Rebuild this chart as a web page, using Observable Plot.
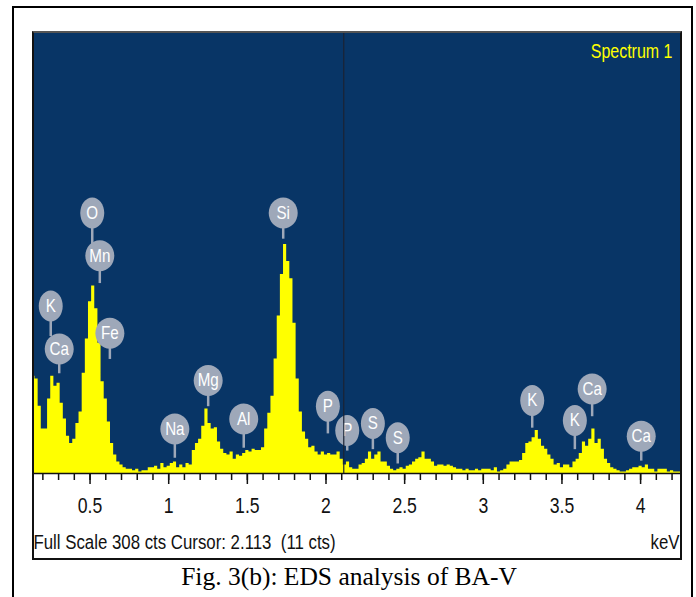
<!DOCTYPE html>
<html>
<head>
<meta charset="utf-8">
<script src="https://cdn.jsdelivr.net/npm/d3@7"></script>
<script src="https://cdn.jsdelivr.net/npm/@observablehq/plot@0.6"></script>
<style>
  html, body { margin: 0; padding: 0; background: #fff; }
  #page { position: relative; width: 696px; height: 597px; overflow: hidden; }
  #outer { position: absolute; left: 12px; top: 6px; width: 681px; height: 620px; border: 2px solid #000; box-sizing: border-box; }
  #chart { position: absolute; left: 0; top: 0; }
  #panel { position: absolute; left: 32px; top: 31px; width: 650px; height: 529px; border: 2px solid #111; border-top-color: #555; box-sizing: border-box; pointer-events: none; }
  #caption { position: absolute; left: 0; width: 698px; top: 562px; text-align: center;
    font-family: 'Palatino Linotype', 'Book Antiqua', 'Liberation Serif', 'DejaVu Serif', serif; font-size: 25.5px; color: #000; }
</style>
</head>
<body>
<div id="page">
  <div id="outer"></div>
  <div id="chart"></div>
  <div id="panel"></div>
  <div id="caption">Fig. 3(b): EDS analysis of BA-V</div>
</div>
<script>
// ---- Data ----
const energyStart = 0.14;   // keV of first channel
const channelWidth = 0.02;  // keV per channel
// counts per channel, rows of 10 channels (0.2 keV per row)
const counts = [
  68,66,47,31,31,52,68,61,63,49,      // 0.14-0.32
  38,26,21,24,35,43,70,94,120,131,    // 0.34-0.52
  115,91,64,52,36,21,13,8,6,4,        // 0.54-0.72
  3,3,2,3,1,2,2,4,4,5,                // 0.74-0.92
  3,7,4,5,7,8,4,6,4,7,                // 0.94-1.12
  6,16,21,24,33,45,35,31,32,22,       // 1.14-1.32
  17,14,13,15,10,13,12,14,16,15,      // 1.34-1.52
  17,16,16,18,31,42,54,80,110,139,    // 1.54-1.72
  160,148,136,105,66,43,29,24,18,19,  // 1.74-1.92
  15,13,15,13,14,13,13,15,10,6,       // 1.94-2.12
  8,4,3,3,6,7,10,15,10,13,            // 2.14-2.32
  15,8,8,5,3,2,3,4,3,5,               // 2.34-2.52
  6,8,10,11,15,10,10,8,5,6,           // 2.54-2.72
  6,5,6,5,4,3,3,2,3,2,                // 2.74-2.92
  2,3,2,3,3,3,2,4,1,2,                // 2.94-3.12
  3,6,8,8,8,9,14,21,22,25,            // 3.14-3.32
  30,24,19,17,13,10,6,7,4,6,          // 3.34-3.52
  6,4,8,10,14,22,19,24,31,21,         // 3.54-3.72
  24,17,10,7,4,3,2,1,1,2,             // 3.74-3.92
  3,4,4,5,4,6,3,3,1,3,                // 3.94-4.12
  3,3,1,2,1,1,1                       // 4.14-4.26
];
const peakElements = ["K","Ca","O","Mn","Fe","Na","Mg","Al","Si","P","P","S","S","K","K","Ca","Ca"];
const peakKeV      = [0.250,0.304,0.514,0.562,0.626,1.039,1.251,1.477,1.728,2.012,2.135,2.298,2.456,3.311,3.582,3.692,4.004];
const badgeCts     = [117,87,182,152,98,31,65,38,182,47,30,35,25,51,37,59,26];
const stemCts      = [96,70,159,133,80,11,47,18,164,28,16,17,7,32,17,40,9];
const majorTicks = [0.5, 1, 1.5, 2, 2.5, 3, 3.5, 4];
const majorTickLabels = ["0.5", "1", "1.5", "2", "2.5", "3", "3.5", "4"];
const fullScale = 308;
const cursorKeV = 2.113;
const cursorCts = 11;
const spectrumName = "Spectrum 1";
const unitLabel = "keV";

// ---- Build tables ----
const spectrum = counts.map((c, i) => ({energy: +(energyStart + i * channelWidth).toFixed(3), cts: c}));
const peaks = peakElements.map((el, i) => ({el, energy: peakKeV[i], yc: badgeCts[i], ys: stemCts[i]}));
const minorTicks = d3.range(2, 43).map(i => i / 10);
const statusText = `Full Scale ${fullScale} cts Cursor: ${cursorKeV.toFixed(3)}  (${cursorCts} cts)`;

const sans = "'Liberation Sans', Arial, sans-serif";
const badgeColor = "#9ea8b9";

function ellipseSymbol(rx, ry) {
  const k = 0.5523;
  return {
    draw(ctx) {
      ctx.moveTo(rx, 0);
      ctx.bezierCurveTo(rx, ry * k, rx * k, ry, 0, ry);
      ctx.bezierCurveTo(-rx * k, ry, -rx, ry * k, -rx, 0);
      ctx.bezierCurveTo(-rx, -ry * k, -rx * k, -ry, 0, -ry);
      ctx.bezierCurveTo(rx * k, -ry, rx, -ry * k, rx, 0);
      ctx.closePath();
    }
  };
}

const narrowPeaks = peaks.filter(d => d.el.length === 1);
const widePeaks = peaks.filter(d => d.el.length > 1);

const chart = Plot.plot({
  width: 696,
  height: 560,
  marginLeft: 33,
  marginRight: 16,
  marginTop: 32,
  marginBottom: 87,
  style: {background: "transparent", overflow: "visible"},
  x: {domain: [(33 - 10.9) / 157.3, (680 - 10.9) / 157.3], label: null},
  y: {domain: [0, fullScale], axis: null, label: null},
  marks: [
    Plot.frame({fill: "#083566", stroke: null}),
    Plot.areaY(spectrum, {x: "energy", y: "cts", curve: "step", fill: "#ffff00", clip: true}),
    Plot.ruleY([0], {stroke: "#111", strokeWidth: 1.5}),
    Plot.link(peaks, {x1: "energy", x2: "energy", y1: "yc", y2: "ys", stroke: badgeColor, strokeWidth: 2.5}),
    Plot.dot(narrowPeaks, {x: "energy", y: "yc", r: 12, fill: badgeColor, stroke: null, symbol: ellipseSymbol(12, 15.5)}),
    Plot.dot(widePeaks, {x: "energy", y: "yc", r: 12, fill: badgeColor, stroke: null, symbol: ellipseSymbol(14.5, 15.5)}),
    Plot.text(peaks, {x: "energy", y: "yc", text: "el", fill: "#ffffff", fontSize: 18.5, fontFamily: sans}),
    Plot.ruleX([cursorKeV], {stroke: "#1b2333", strokeWidth: 1.2}),
    Plot.text([spectrumName], {frameAnchor: "top-right", dx: -8, dy: 12, fill: "#ffff00", fontSize: 19.5, fontFamily: sans, textAnchor: "end", lineAnchor: "top"}),
    Plot.axisX(minorTicks, {tickSize: 7, tickFormat: () => "", stroke: "#111", strokeWidth: 1.5, label: null}),
    Plot.axisX(majorTicks, {tickSize: 11, tickPadding: 13, tickFormat: (d, i) => majorTickLabels[i], fontSize: 21.5, fontFamily: sans, color: "#111", stroke: "#111", strokeWidth: 1.5, label: null}),
    Plot.text([statusText], {frameAnchor: "bottom-left", dx: 0, dy: 69, textAnchor: "start", lineAnchor: "middle", fontSize: 20.5, fontFamily: sans, fill: "#111"}),
    Plot.text([unitLabel], {frameAnchor: "bottom-right", dx: -1, dy: 69, textAnchor: "end", lineAnchor: "middle", fontSize: 20.5, fontFamily: sans, fill: "#111"})
  ]
});
document.getElementById("chart").appendChild(chart);

// emulate a narrow (condensed) face: compress every label horizontally to 82%
chart.querySelectorAll("text").forEach(t => {
  const len = t.getComputedTextLength();
  if (len > 0) {
    t.setAttribute("textLength", (len * 0.82).toFixed(2));
    t.setAttribute("lengthAdjust", "spacingAndGlyphs");
  }
});
</script>
</body>
</html>
